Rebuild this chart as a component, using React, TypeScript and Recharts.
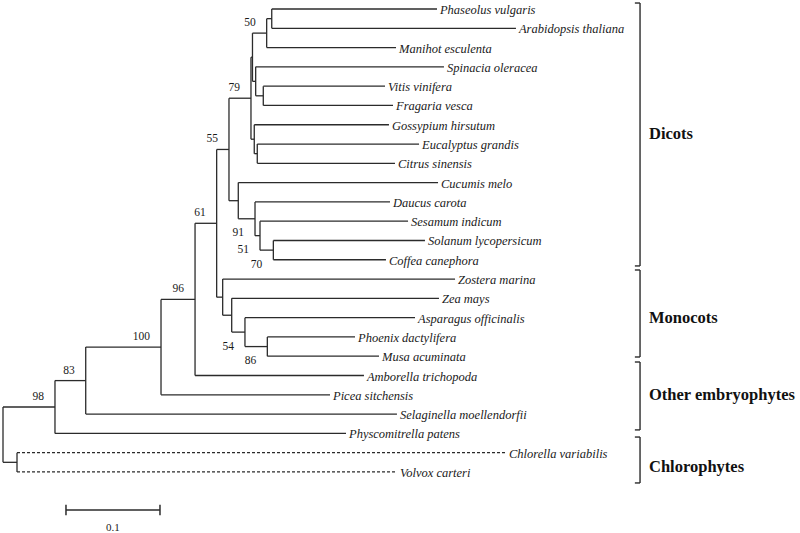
import { ScatterChart, Scatter, XAxis, YAxis, ReferenceLine } from 'recharts'

// leaves, top to bottom
const taxa = [
  'Phaseolus vulgaris', 'Arabidopsis thaliana', 'Manihot esculenta', 'Spinacia oleracea',
  'Vitis vinifera', 'Fragaria vesca', 'Gossypium hirsutum', 'Eucalyptus grandis',
  'Citrus sinensis', 'Cucumis melo', 'Daucus carota', 'Sesamum indicum',
  'Solanum lycopersicum', 'Coffea canephora', 'Zostera marina', 'Zea mays',
  'Asparagus officinalis', 'Phoenix dactylifera', 'Musa acuminata', 'Amborella trichopoda',
  'Picea sitchensis', 'Selaginella moellendorfii', 'Physcomitrella patens',
  'Chlorella variabilis', 'Volvox carteri',
]
// distance from root (substitutions/site)
const taxonDepth = [
  0.4617, 0.5457, 0.4181, 0.4691, 0.4064, 0.4149, 0.4106, 0.4426, 0.417, 0.4628,
  0.4117, 0.4309, 0.4489, 0.4074, 0.4809, 0.4638, 0.4383, 0.3745, 0.4, 0.384,
  0.3479, 0.4191, 0.3649, 0.5351, 0.4191,
]
const dashedTaxa = [23, 24]

// internal nodes: children are clade ids or taxon indices
const cladeIds = [
  'root', 'chl', 'c98', 'c83', 'c100', 'c96', 'c61', 'c55', 'c79', 'cA', 'c50', 'cPA',
  'cSVF', 'cVF', 'cG', 'cEC', 'cAst', 'c91', 'c51', 'c70', 'cMono', 'cM2', 'c54', 'c86',
]
const cladeChildren: (string | number)[][] = [
  ['c98', 'chl'], [23, 24], ['c83', 22], ['c100', 21], ['c96', 20], ['c61', 19],
  ['c55', 'cMono'], ['c79', 'cAst'], ['cA', 'cG'], ['c50', 'cSVF'], ['cPA', 2], [0, 1],
  [3, 'cVF'], [4, 5], [6, 'cEC'], [7, 8], [9, 'c91'], [10, 'c51'], [11, 'c70'], [12, 13],
  [14, 'cM2'], [15, 'c54'], [16, 'c86'], [17, 18],
]
const cladeDepth = [
  0, 0.0149, 0.0553, 0.088, 0.1681, 0.2043, 0.2273, 0.2404, 0.2638, 0.2654, 0.2805, 0.2859,
  0.2688, 0.2769, 0.2673, 0.2705, 0.2503, 0.2681, 0.2734, 0.2876, 0.2337, 0.2433, 0.2574, 0.2812,
]
const cladeSupport = [
  null, null, 98, 83, 100, 96, 61, 55, 79, null, 50, null,
  null, null, null, null, null, 91, 51, 70, null, null, 54, 86,
]
const supportBelow = ['c91', 'c51', 'c70', 'c54', 'c86']

const groupNames = ['Dicots', 'Monocots', 'Other embryophytes', 'Chlorophytes']
const groupSpan = [[-0.31, 13.32], [13.53, 18.04], [18.3, 21.82], [22.19, 24.57]]
const groupLabelAt = [6.48, 15.97, 20.0, 23.74]

const scaleBarStart = 0.067
const scaleBarLength = 0.1

const X_DOMAIN = [-3 / 940, 797 / 940]
const Y_DOMAIN = [-9 / 19.29, 524 / 19.29]
const BRACKET_X = 0.6777
const LINE = '#2b2b2b'
const SERIF = "'Liberation Serif', 'DejaVu Serif', serif"

const cladeIndex = new Map(cladeIds.map((id, i) => [id, i]))

function yOf(ref: string | number): number {
  if (typeof ref === 'number') return ref
  const kids = cladeChildren[cladeIndex.get(ref)!]
  return kids.reduce((s: number, k) => s + yOf(k), 0) / kids.length
}
function xOf(ref: string | number): number {
  return typeof ref === 'number' ? taxonDepth[ref] : cladeDepth[cladeIndex.get(ref)!]
}

const segments: { x1: number; y1: number; x2: number; y2: number; dashed: boolean }[] = []
cladeIds.forEach((id, i) => {
  const x = cladeDepth[i]
  const ys = cladeChildren[i].map(yOf)
  segments.push({ x1: x, y1: Math.min(...ys), x2: x, y2: Math.max(...ys), dashed: false })
  cladeChildren[i].forEach((c) => {
    const y = yOf(c)
    segments.push({ x1: x, y1: y, x2: xOf(c), y2: y, dashed: typeof c === 'number' && dashedTaxa.includes(c) })
  })
})

const leafPoints = taxa.map((name, i) => ({ x: taxonDepth[i], y: i, name }))
const supportPoints = cladeIds
  .map((id, i) => ({ x: cladeDepth[i], y: yOf(id), value: cladeSupport[i], below: supportBelow.includes(id) }))
  .filter((p) => p.value !== null)
const groupPoints = groupNames.map((name, i) => ({ x: BRACKET_X, y: groupLabelAt[i], name }))
const scalePoints = [{ x: scaleBarStart + scaleBarLength / 2, y: 26.85, name: '0.1' }]

export default function App() {
  return (
    <div style={{ position: 'absolute', left: 0, top: 0, width: 800, height: 533, background: '#fff' }}>
      <ScatterChart width={800} height={533} margin={{ top: 0, right: 0, bottom: 0, left: 0 }}>
        <XAxis type="number" dataKey="x" domain={X_DOMAIN} hide allowDataOverflow />
        <YAxis type="number" dataKey="y" domain={Y_DOMAIN} reversed hide allowDataOverflow width={0} />
        {segments.map((s, i) => (
          <ReferenceLine
            key={'b' + i}
            segment={[{ x: s.x1, y: s.y1 }, { x: s.x2, y: s.y2 }]}
            stroke={LINE}
            strokeWidth={1.3}
            strokeDasharray={s.dashed ? '3 2' : undefined}
          />
        ))}
        {groupSpan.map(([a, b], i) => (
          <g key={'g' + i}>
            <ReferenceLine segment={[{ x: BRACKET_X, y: a }, { x: BRACKET_X, y: b }]} stroke={LINE} strokeWidth={1.4} />
            <ReferenceLine segment={[{ x: BRACKET_X - 0.0055, y: a }, { x: BRACKET_X, y: a }]} stroke={LINE} strokeWidth={1.4} />
            <ReferenceLine segment={[{ x: BRACKET_X - 0.0055, y: b }, { x: BRACKET_X, y: b }]} stroke={LINE} strokeWidth={1.4} />
          </g>
        ))}
        <ReferenceLine segment={[{ x: scaleBarStart, y: 25.97 }, { x: scaleBarStart + scaleBarLength, y: 25.97 }]} stroke={LINE} strokeWidth={1.5} />
        <ReferenceLine segment={[{ x: scaleBarStart, y: 25.7 }, { x: scaleBarStart, y: 26.24 }]} stroke={LINE} strokeWidth={1.5} />
        <ReferenceLine segment={[{ x: scaleBarStart + scaleBarLength, y: 25.7 }, { x: scaleBarStart + scaleBarLength, y: 26.24 }]} stroke={LINE} strokeWidth={1.5} />
        <Scatter
          data={leafPoints}
          dataKey="y"
          isAnimationActive={false}
          shape={(p: any) => (
            <text x={p.cx + 3} y={p.cy + 1} style={{ fontFamily: SERIF, fontStyle: 'italic', fontSize: 12.5 }} fill="#1a1a1a" dominantBaseline="central">
              {p.payload.name}
            </text>
          )}
        />
        <Scatter
          data={supportPoints}
          dataKey="y"
          isAnimationActive={false}
          shape={(p: any) => (
            <text
              x={p.cx - 11}
              y={p.payload.below ? p.cy + 13.5 : p.cy - 11}
              style={{ fontFamily: SERIF, fontSize: 11.5 }}
              fill="#1a1a1a"
              textAnchor="end"
              dominantBaseline="central"
            >
              {p.payload.value}
            </text>
          )}
        />
        <Scatter
          data={groupPoints}
          dataKey="y"
          isAnimationActive={false}
          shape={(p: any) => (
            <text x={p.cx + 9} y={p.cy} style={{ fontFamily: SERIF, fontWeight: 'bold', fontSize: 16.5 }} fill="#111" dominantBaseline="central">
              {p.payload.name}
            </text>
          )}
        />
        <Scatter
          data={scalePoints}
          dataKey="y"
          isAnimationActive={false}
          shape={(p: any) => (
            <text x={p.cx} y={p.cy} style={{ fontFamily: SERIF, fontSize: 11 }} fill="#1a1a1a" textAnchor="middle" dominantBaseline="central">
              {p.payload.name}
            </text>
          )}
        />
      </ScatterChart>
    </div>
  )
}
